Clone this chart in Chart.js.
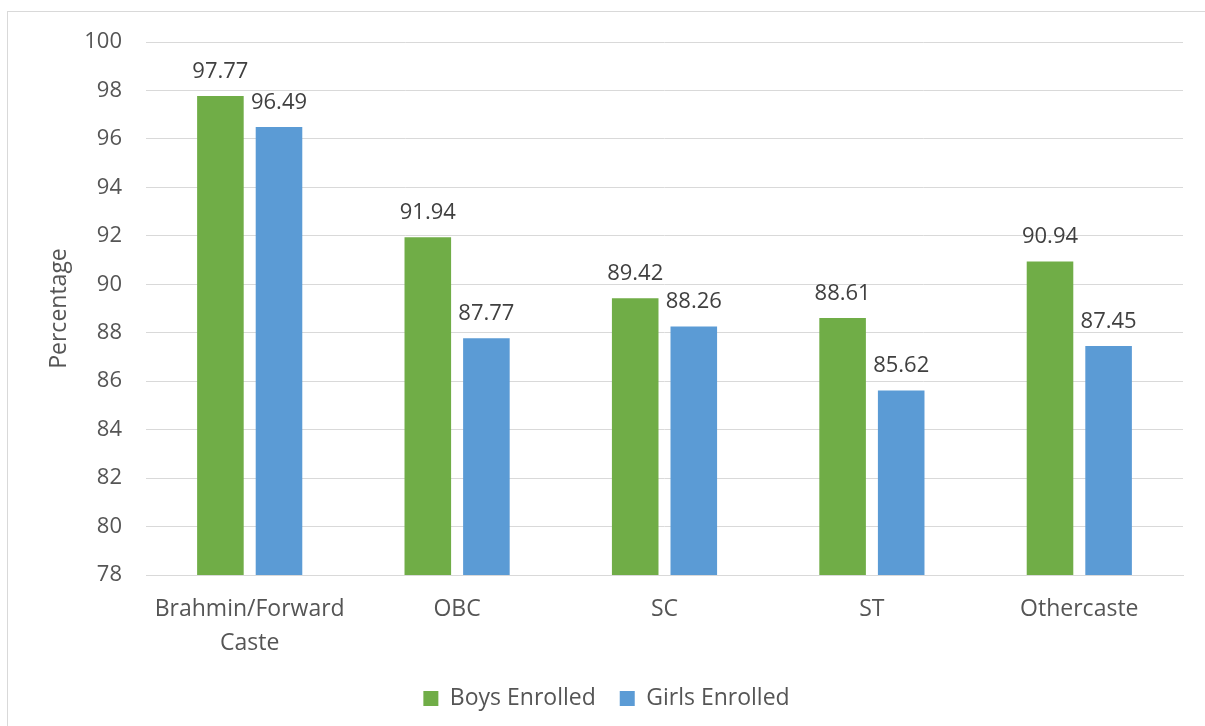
<!DOCTYPE html>
<html>
<head>
<meta charset="utf-8">
<script src="https://cdn.jsdelivr.net/npm/chart.js@4"></script>
<style>
  html, body { margin: 0; padding: 0; background: #fff; overflow: hidden; }
  #frame {
    position: absolute; left: 7px; top: 11px; width: 1400px; height: 900px;
    border: 1px solid #d9d9d9; box-sizing: border-box;
  }
  #wrap { position: absolute; left: 0; top: 0; width: 1205px; height: 726px; }
</style>
</head>
<body>
<div id="frame"></div>
<div id="wrap"><canvas id="chart"></canvas></div>
<script>
// Enrolment by caste group, boys vs girls
const categories = [["Brahmin/Forward", "Caste"], "OBC", "SC", "ST", "Othercaste"];
const boysEnrolled = [97.77, 91.94, 89.42, 88.61, 90.94];
const girlsEnrolled = [96.49, 87.77, 88.26, 85.62, 87.45];
const yTicks = { min: 78, max: 100, step: 2 };

const FONT = "'Open Sans', sans-serif";
const INK = "#555555";
const GREEN = "#70ad47";
const BLUE = "#5b9bd5";

// draws the value above each bar
const valueLabels = {
  id: "valueLabels",
  afterDatasetsDraw(chart) {
    const ctx = chart.ctx;
    ctx.save();
    ctx.font = `22px ${FONT}`;
    ctx.fillStyle = "#404040";
    ctx.textAlign = "center";
    ctx.textBaseline = "alphabetic";
    chart.data.datasets.forEach((ds, i) => {
      chart.getDatasetMeta(i).data.forEach((bar, j) => {
        ctx.fillText(ds.data[j].toFixed(2), bar.x, bar.y - 18);
      });
    });
    ctx.restore();
  },
};

new Chart(document.getElementById("chart"), {
  type: "bar",
  data: {
    labels: categories,
    datasets: [
      { label: "Boys Enrolled", data: boysEnrolled, backgroundColor: GREEN },
      { label: "Girls Enrolled", data: girlsEnrolled, backgroundColor: BLUE },
    ],
  },
  options: {
    responsive: true,
    maintainAspectRatio: false,
    animation: false,
    layout: { padding: { top: 42, right: 22, left: 30, bottom: 6 } },
    datasets: { bar: { categoryPercentage: 0.565, barPercentage: 0.795 } },
    plugins: {
      legend: {
        position: "bottom",
        labels: {
          color: INK,
          font: { family: FONT, size: 23 },
          boxWidth: 15,
          boxHeight: 15,
          padding: 24,
        },
      },
      tooltip: { enabled: false },
    },
    scales: {
      x: {
        grid: { display: false, drawTicks: false },
        border: { display: true, color: "#d9d9d9", width: 1 },
        afterFit(scale) { scale.height = 88; },
        ticks: { color: INK, font: { family: FONT, size: 23, lineHeight: 1.45 }, padding: 18 },
      },
      y: {
        min: yTicks.min,
        max: yTicks.max,
        grid: { color: "#d9d9d9", lineWidth: 1, drawTicks: false },
        border: { display: false },
        afterFit(scale) { scale.width = 116; },
        ticks: {
          stepSize: yTicks.step,
          color: INK,
          font: { family: FONT, size: 22 },
          padding: 24,
        },
        title: {
          display: true,
          text: "Percentage",
          color: INK,
          font: { family: FONT, size: 23 },
          padding: { top: 16, bottom: 0 },
        },
      },
    },
  },
  plugins: [valueLabels],
});
</script>
</body>
</html>
